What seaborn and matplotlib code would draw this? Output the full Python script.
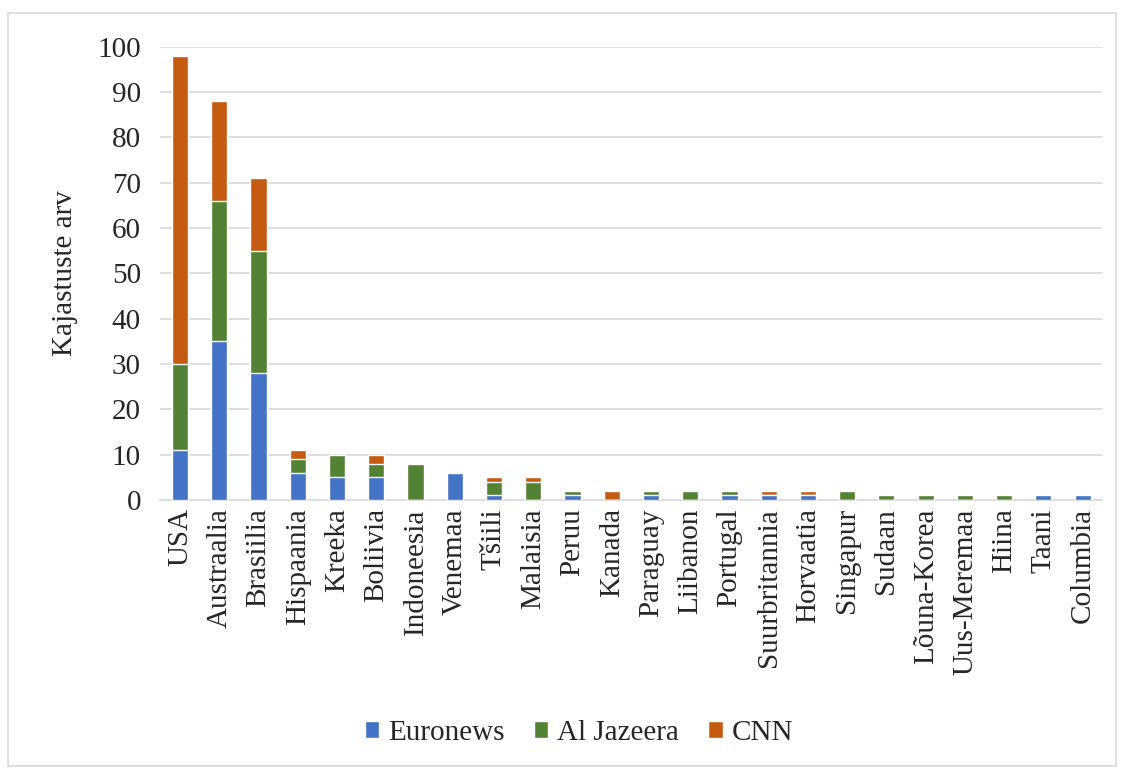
import numpy as np
import pandas as pd
import matplotlib
matplotlib.use("Agg")
import matplotlib.pyplot as plt
import seaborn as sb
from matplotlib.patches import Rectangle, Patch

countries = ["USA", "Austraalia", "Brasiilia", "Hispaania", "Kreeka", "Boliivia",
             "Indoneesia", "Venemaa", "Tšiili", "Malaisia", "Peruu", "Kanada",
             "Paraguay", "Liibanon", "Portugal", "Suurbritannia", "Horvaatia",
             "Singapur", "Sudaan", "Lõuna-Korea", "Uus-Meremaa", "Hiina", "Taani",
             "Columbia"]
euronews = [11, 35, 28, 6, 5, 5, 0, 6, 1, 0, 1, 0, 1, 0, 1, 1, 1, 0, 0, 0, 0, 0, 1, 1]
aljazeera = [19, 31, 27, 3, 5, 3, 8, 0, 3, 4, 1, 0, 1, 2, 1, 0, 0, 2, 1, 1, 1, 1, 0, 0]
cnn = [68, 22, 16, 2, 0, 2, 0, 0, 1, 1, 0, 2, 0, 0, 0, 1, 1, 0, 0, 0, 0, 0, 0, 0]

series = ["Euronews", "Al Jazeera", "CNN"]
colors = ["#4472C4", "#548235", "#C55A11"]

df = pd.DataFrame({"country": countries, "Euronews": euronews,
                   "Al Jazeera": aljazeera, "CNN": cnn})
df["top_aj"] = df["Euronews"] + df["Al Jazeera"]
df["top_cnn"] = df["top_aj"] + df["CNN"]

sb.set_style("white")
plt.rcParams["font.family"] = ["Liberation Serif", "DejaVu Serif"]
fs = 21

fig = plt.figure(figsize=(11.24, 7.69), dpi=100)
ax = fig.add_axes([0.1427, 0.350, 0.838, 0.589])

# stacked bars: draw cumulative totals back to front
for col, c in zip(["top_cnn", "top_aj", "Euronews"], colors[::-1]):
    sb.barplot(data=df, x="country", y=col, color=c, width=0.41,
               saturation=1, ax=ax, zorder=3)

ax.set_ylim(0, 100)
ax.set_yticks(range(0, 101, 10))
ax.yaxis.grid(True, color="#D9D9D9", linewidth=1.2, zorder=0)
ax.set_axisbelow(True)
for s in ["top", "right", "left"]:
    ax.spines[s].set_visible(False)
ax.spines["bottom"].set_color("#D9D9D9")
ax.spines["bottom"].set_linewidth(1.2)
ax.set_xlim(-0.5, len(countries) - 0.5)
ax.tick_params(axis="both", length=0, labelsize=fs, pad=14)
ax.tick_params(axis="x", rotation=90, pad=6)
ax.set_xlabel("")
ax.set_ylabel("Kajastuste arv", fontsize=fs, labelpad=14)

handles = [Patch(facecolor=c, label=s) for s, c in zip(series, colors)]
fig.legend(handles=handles, loc="center", bbox_to_anchor=(579 / 1124, 0.047),
           ncol=3, frameon=False, fontsize=fs, handlelength=0.5,
           handleheight=0.5, handletextpad=0.3, columnspacing=1.0)

fig.patches.append(Rectangle((8 / 1124, 3 / 769), 1108 / 1124, 753 / 769,
                             transform=fig.transFigure, fill=False,
                             edgecolor="#D9D9D9", linewidth=1.2))

fig.savefig("out.png", dpi=100)
